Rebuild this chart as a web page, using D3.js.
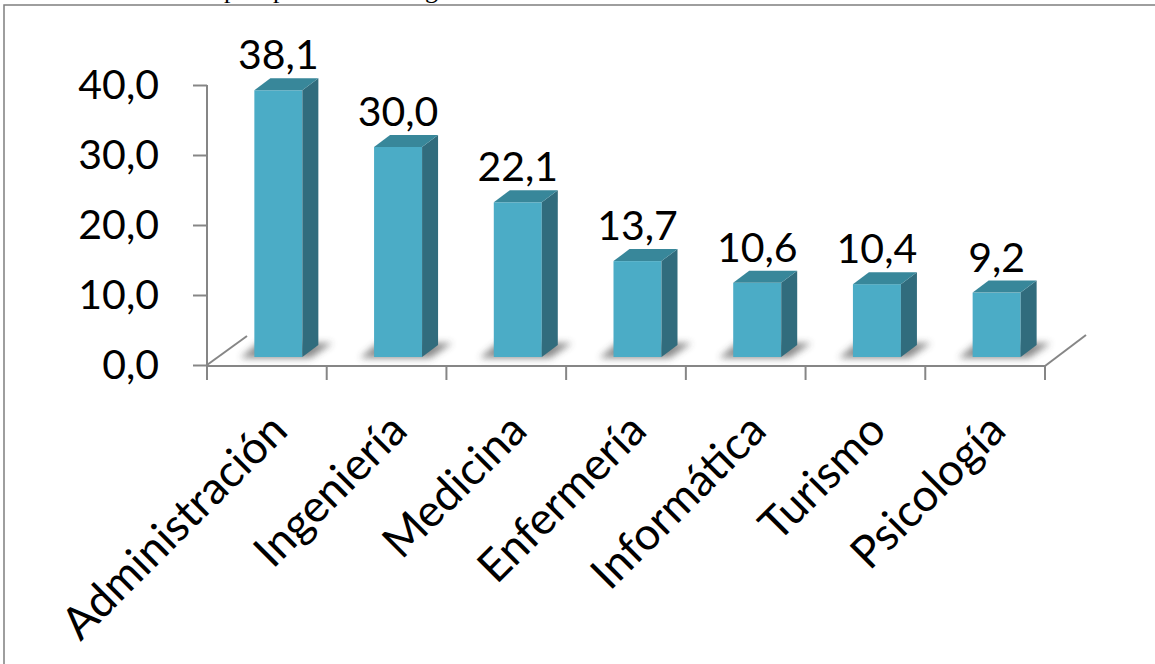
<!DOCTYPE html>
<html>
<head>
<meta charset="utf-8">
<script src="https://cdn.jsdelivr.net/npm/d3@7"></script>
<style>
  body { margin: 0; background: #fff; }
  text { font-family: Lato, "Open Sans", sans-serif; fill: #000; }
  .axis line, .axis path { stroke: #868686; stroke-width: 2; }
</style>
</head>
<body>
<svg id="chart" width="1155" height="664"></svg>
<script>
// data
const categories = ["Administración", "Ingeniería", "Medicina", "Enfermería", "Informática", "Turismo", "Psicología"];
const values = [38.1, 30.0, 22.1, 13.7, 10.6, 10.4, 9.2];
const yTicks = [0, 10, 20, 30, 40];

const svg = d3.select('#chart');
const fmt = d => d3.format(".1f")(d).replace(".", ",");

// layout
const left = 207, right = 1045;
const fontSize = 41;
const catFontSize = 45;
const shiftX = 11.5, shiftY = -8;     // bars sit a bit back on the floor
const depthX = 16, depthY = -12;      // bar depth
const barW = 48;

const xScale = d3.scaleBand()
    .domain(categories)
    .range([left, right])
    .padding(0);

const yScale = d3.scaleLinear()
    .domain([0, 40])
    .range([365, 85]);

const defs = svg.append('defs');
defs.append('filter')
    .attr('id', 'blur')
    .attr('x', '-50%').attr('y', '-100%')
    .attr('width', '200%').attr('height', '300%')
    .append('feGaussianBlur')
    .attr('stdDeviation', 3.5);

// outer frame
svg.append('rect')
    .attr('x', 4).attr('y', 5)
    .attr('width', 1170).attr('height', 680)
    .attr('fill', 'none')
    .attr('stroke', '#7f7f7f')
    .attr('stroke-width', 1.5);

// cut-off caption above the frame (only descenders visible)
[["p", 224], ["p", 273], ["g", 425]].forEach(([ch, px]) => {
    svg.append('text')
        .attr('x', px).attr('y', -2)
        .style('font-family', '"Liberation Serif", "Times New Roman", serif')
        .style('font-size', '26px')
        .text(ch);
});

// floor
const floorY = 366;
const floor = svg.append('g').attr('class', 'axis');
floor.append('line')
    .attr('x1', left).attr('y1', floorY)
    .attr('x2', right).attr('y2', floorY);
floor.append('line')
    .attr('x1', left).attr('y1', floorY - 1)
    .attr('x2', left + 40).attr('y2', floorY - 30);
floor.append('line')
    .attr('x1', right).attr('y1', floorY)
    .attr('x2', right + 41).attr('y2', floorY - 31);

// category boundary ticks
const bounds = categories.map(c => xScale(c)).concat([right]);
floor.selectAll('.xtick')
    .data(bounds)
    .enter()
    .append('line')
    .attr('x1', d => d).attr('x2', d => d)
    .attr('y1', floorY).attr('y2', floorY + 14);

// y axis
const yAxis = svg.append('g')
    .attr('class', 'axis')
    .attr('transform', `translate(${left},0)`)
    .call(d3.axisLeft(yScale)
        .tickValues(yTicks)
        .tickSize(14)
        .tickPadding(34)
        .tickFormat(fmt));
yAxis.select('.domain').remove();
yAxis.append('line')
    .attr('x1', 0).attr('x2', 0)
    .attr('y1', yScale(40)).attr('y2', yScale(0) + 10);
yAxis.selectAll('text')
    .attr('fill', '#000')
    .style('font-size', fontSize + 'px')
    .style('font-family', 'Lato, sans-serif');

// bars
const barGroups = svg.selectAll('.bar')
    .data(values)
    .enter()
    .append('g')
    .attr('class', 'bar');

const cx = (d, i) => xScale(categories[i]) + xScale.bandwidth() / 2 + shiftX;
const base = yScale(0) + shiftY;

barGroups.append('polygon')
    .attr('points', (d, i) => {
        const x0 = cx(d, i) - barW / 2, x1 = x0 + barW;
        return [[x0 - 14, base + 1], [x1 + 8, base + 1], [x1 + 30, base - 14], [x0 + 4, base - 14]].join(' ');
    })
    .attr('fill', '#3c3c3c')
    .attr('opacity', 0.6)
    .attr('filter', 'url(#blur)');

barGroups.append('rect')
    .attr('x', (d, i) => cx(d, i) - barW / 2)
    .attr('y', d => yScale(d) + shiftY)
    .attr('width', barW)
    .attr('height', d => yScale(0) - yScale(d))
    .attr('fill', '#4bacc6');

barGroups.append('polygon')
    .attr('points', (d, i) => {
        const x1 = cx(d, i) + barW / 2, top = yScale(d) + shiftY;
        return [[x1, top], [x1 + depthX, top + depthY], [x1 + depthX, base + depthY], [x1, base]].join(' ');
    })
    .attr('fill', '#316c7d');

barGroups.append('polygon')
    .attr('points', (d, i) => {
        const x0 = cx(d, i) - barW / 2, x1 = x0 + barW, top = yScale(d) + shiftY;
        return [[x0, top], [x0 + depthX, top + depthY], [x1 + depthX, top + depthY], [x1, top]].join(' ');
    })
    .attr('fill', '#38879a');

barGroups.append('text')
    .attr('x', (d, i) => cx(d, i))
    .attr('y', d => yScale(d) + shiftY - 21)
    .attr('text-anchor', 'middle')
    .style('font-size', fontSize + 'px')
    .text(fmt);

// category labels
svg.selectAll('.cat')
    .data(categories)
    .enter()
    .append('text')
    .attr('class', 'cat')
    .attr('transform', c => `translate(${xScale(c) + xScale.bandwidth() / 2},410) rotate(-45)`)
    .attr('dy', '0.72em')
    .attr('text-anchor', 'end')
    .style('font-size', catFontSize + 'px')
    .text(c => c);
</script>
</body>
</html>
